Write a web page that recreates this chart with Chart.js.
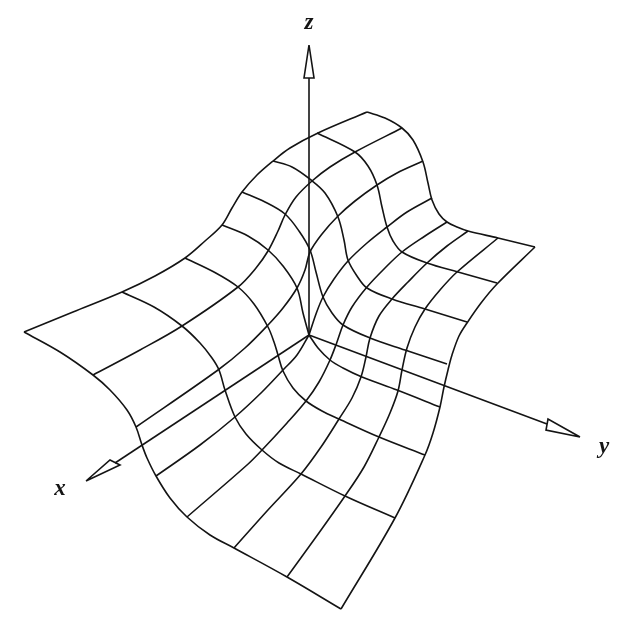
<!DOCTYPE html>
<html>
<head>
<meta charset="utf-8">
<title>Surface over the xy-plane</title>
<script src="https://cdn.jsdelivr.net/npm/chart.js@4/dist/chart.umd.min.js"></script>
<style>
  html, body { margin: 0; padding: 0; background: #fff; }
  #wrap { width: 628px; height: 622px; }
</style>
</head>
<body>
<div id="wrap"><canvas id="surface"></canvas></div>
<script>
'use strict';

/* outer edges of the surface */
const edgeLeftTop = [[24,332],[73,312],[122,292],[155,276],[185,258],[205,241],[222,225],[232,208],[242,192],[257,175],[273,161],[290,148],[318,133],[367,112]];
const edgeTopRight = [[367,112],[385,118],[402,128],[413,140],[423,162],[428,183],[432,200],[439,214],[447,222],[457,227],[468,231],[498,238],[535,247]];
const edgeRightFront = [[535,247],[497,284],[481,303],[467,323],[459,336],[452,355],[448,370],[444,387],[440,407],[433,433],[425,455],[395,518],[341,609]];
const edgeFrontLeft = [[341,609],[287,577],[234,548],[210,535],[187,517],[170,498],[156,476],[147,458],[142,445],[136,427],[127,410],[110,390],[93,375],[60,352],[24,332]];

/* grid lines running from the left-top edge to the right-front edge */
const lineA1 = [[122,292],[154,307],[182,326],[200,343],[212,358],[219,370],[225,390],[235,417],[246,434],[262,450],[279,463],[301,474],[345,496],[395,518]];
const lineA2 = [[185,258],[214,272],[238,287],[254,304],[268,327],[274,342],[278,355],[283,371],[293,388],[306,401],[322,411],[339,419],[379,437],[425,455]];
const lineA3 = [[222,225],[248,236],[268,250],[283,266],[297,288],[303,313],[309,335],[309,335],[318,348],[330,360],[343,368],[362,377],[397,390],[440,407]];
const lineA4 = [[242,192],[265,202],[285,214],[299,231],[310,250],[316,272],[323,297],[332,313],[343,325],[370,338],[405,350],[447,364]];
const lineA5 = [[273,161],[292,167],[311,180],[325,193],[338,217],[344,240],[348,260],[357,276],[367,288],[392,299],[425,309],[467,322]];
const lineA6 = [[317,133],[355,152],[368,166],[377,185],[382,207],[387,227],[393,241],[402,252],[427,263],[458,272],[497,283]];

/* grid lines running from the front-left edge to the top-right edge */
const lineB1 = [[93,375],[140,350],[182,326],[238,287],[256,268],[268,251],[278,231],[285,215],[296,197],[312,181],[330,167],[355,152],[402,128]];
const lineB2 = [[136,427],[218,370],[245,348],[268,325],[283,308],[297,288],[305,270],[310,252],[322,234],[338,216],[355,201],[377,185],[397,173],[423,161]];
const lineB3 = [[156,476],[200,445],[235,417],[262,392],[283,370],[297,355],[309,335],[309,335],[316,314],[323,297],[334,279],[348,261],[367,243],[387,227],[407,212],[432,198]];
const lineB4 = [[187,517],[247,465],[262,450],[287,423],[306,401],[319,382],[330,360],[337,342],[343,325],[352,307],[367,287],[384,269],[402,252],[425,236],[447,222]];
const lineB5 = [[234,548],[267,511],[301,474],[321,447],[339,419],[352,398],[361,377],[366,357],[370,338],[379,316],[392,299],[408,282],[427,263],[447,246],[468,231]];
const lineB6 = [[287,577],[316,537],[345,496],[364,467],[379,437],[390,413],[398,391],[402,370],[407,348],[415,327],[425,309],[440,290],[457,272],[498,238]];

/* axes and their hollow arrow heads */
const axisX = [[309,335],[115,463]];
const axisY = [[309,335],[547,424]];
const axisZ = [[309,335],[309,78]];
const headX = [[86,481],[110,460],[120,465],[86,481]];
const headY = [[580,437],[548,419],[546,430],[580,437]];
const headZ = [[309,45],[304,78],[314,78],[309,45]];

const axisLabels = ['x', 'y', 'z'];
const axisLabelSpots = [[60,489],[604,447],[309,23]];

const INK = '#141414';

function toPoints(line) {
  return line.map((p) => ({ x: p[0], y: p[1] }));
}

function curve(line) {
  return { data: toPoints(line), borderColor: INK, borderWidth: 1.6, tension: 0.35, pointRadius: 0, showLine: true, fill: false };
}

function straight(line) {
  return { data: toPoints(line), borderColor: INK, borderWidth: 1.6, tension: 0, pointRadius: 0, showLine: true, fill: false };
}

const curves = [
  edgeLeftTop, edgeTopRight, edgeRightFront, edgeFrontLeft,
  lineA1, lineA2, lineA3, lineA4, lineA5, lineA6,
  lineB1, lineB2, lineB3, lineB4, lineB5, lineB6,
];
const straights = [axisX, axisY, axisZ, headX, headY, headZ];

/* axis names are placed through the chart scales */
const axisNamePlugin = {
  id: 'axisNames',
  afterDatasetsDraw(chart) {
    const { ctx, scales } = chart;
    ctx.save();
    ctx.font = 'italic bold 23px "Liberation Serif", serif';
    ctx.fillStyle = INK;
    ctx.textAlign = 'center';
    ctx.textBaseline = 'middle';
    axisLabels.forEach((name, i) => {
      const spot = axisLabelSpots[i];
      ctx.fillText(name, scales.x.getPixelForValue(spot[0]), scales.y.getPixelForValue(spot[1]));
    });
    ctx.restore();
  },
};

new Chart(document.getElementById('surface'), {
  type: 'scatter',
  data: { datasets: curves.map(curve).concat(straights.map(straight)) },
  options: {
    responsive: true,
    maintainAspectRatio: false,
    animation: false,
    layout: { padding: 0 },
    plugins: { legend: { display: false }, tooltip: { enabled: false } },
    scales: {
      x: { type: 'linear', min: 0, max: 628, display: false },
      y: { type: 'linear', min: 0, max: 622, reverse: true, display: false },
    },
  },
  plugins: [axisNamePlugin],
});
</script>
</body>
</html>
